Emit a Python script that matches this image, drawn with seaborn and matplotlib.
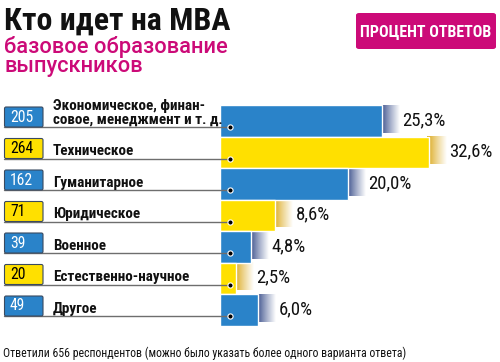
import numpy as np
import pandas as pd
import seaborn as sns
import matplotlib
matplotlib.use("Agg")
import matplotlib.pyplot as plt
from matplotlib import font_manager as fm
from matplotlib.font_manager import FontProperties
from matplotlib.patches import FancyBboxPatch

# ---- data ----
categories = ["Экономическое, финан-\nсовое, менеджмент и т. д.", "Техническое", "Гуманитарное",
              "Юридическое", "Военное", "Естественно-научное", "Другое"]
counts = [205, 264, 162, 71, 39, 20, 49]
percents = [25.3, 32.6, 20.0, 8.6, 4.8, 2.5, 6.0]
pct_labels = ["25,3%", "32,6%", "20,0%", "8,6%", "4,8%", "2,5%", "6,0%"]
title = "Кто идет на МВА"
subtitle_lines = ["базовое образование", "выпускников"]
badge = "ПРОЦЕНТ ОТВЕТОВ"
footnote = "Ответили 656 респондентов (можно было указать более одного варианта ответа)"

BLUE = "#2a83c9"
YELLOW = "#ffe000"
PINK = "#cc0a78"
colors = [BLUE, YELLOW, BLUE, YELLOW, BLUE, YELLOW, BLUE]
shade_dark = {BLUE: (0.15, 0.24, 0.50), YELLOW: (0.85, 0.64, 0.05)}

sns.set_theme(style="white")
plt.rcParams["font.family"] = ["Roboto", "DejaVu Sans"]


def _is_bold(f):
    w = f.weight
    if isinstance(w, str):
        return w.lower() in ("bold", "heavy", "black", "demibold", "semibold")
    return w >= 600


def find_font(bold):
    entries = fm.fontManager.ttflist
    prefs = ["Liberation Sans Narrow", "Roboto Condensed", "Open Sans Condensed",
             "Noto Sans Condensed"]
    for p in prefs:
        for f in entries:
            if f.name == p and _is_bold(f) == bold and f.style == "normal":
                return FontProperties(fname=f.fname)
    for f in entries:
        if f.name == "DejaVu Sans" and str(f.stretch) in ("condensed", "semi-condensed") \
                and _is_bold(f) == bold and f.style == "normal":
            return FontProperties(fname=f.fname)
    return FontProperties(family=["Roboto", "DejaVu Sans"],
                          weight="bold" if bold else "normal")


FP_REG = find_font(False)
FP_BOLD = find_font(True)
FP_WIDE = FontProperties(family=["Roboto", "DejaVu Sans"], weight="medium")

W, H = 500, 362
fig = plt.figure(figsize=(W / 100, H / 100), dpi=100)
fig.patch.set_facecolor("white")
renderer = fig.canvas.get_renderer()


def fit_size(text, fp, target_w, start=12.0):
    p = fp.copy()
    p.set_size(start)
    t = fig.text(0, 0, text, fontproperties=p)
    w = t.get_window_extent(renderer).width
    t.remove()
    return start * target_w / w


def ftext(x, y, s, fp, size, **kw):
    p = fp.copy()
    p.set_size(size)
    return fig.text(x / W, 1 - y / H, s, fontproperties=p, **kw)


PX = 6.4            # pixels per percent
X0 = 220            # pixel position of zero
ax = fig.add_axes([X0 / W, 1 - 325.75 / H, 1 - X0 / W, 220.5 / H])

df = pd.DataFrame({"cat": categories, "pct": percents})
sns.barplot(data=df, x="pct", y="cat", hue="cat", palette=colors, legend=False,
            orient="h", width=1.0, ax=ax, edgecolor="white", linewidth=1.0,
            saturation=1, zorder=3)


def px2x(p):
    return (p - X0) / PX


def pxh(p):
    return p / 31.5


# shadows (3D side) as gradients
for i, (v, c) in enumerate(zip(percents, colors)):
    d = shade_dark[c]
    n = 64
    t = np.linspace(0, 1, n) ** 0.85
    grad = np.zeros((1, n, 3))
    for k in range(3):
        grad[0, :, k] = d[k] + (1 - d[k]) * t
    ax.imshow(grad, extent=[v - 0.3, v + 2.8, i + 0.38, i - 0.48], aspect="auto",
              zorder=2, interpolation="bilinear")

num_size = fit_size("205", FP_REG, 23)
cat_size = fit_size("Естественно-научное", FP_BOLD, 137)
pct_size = fit_size("32,6%", FP_REG, 43)

for i, (cat, n, c, v, lab) in enumerate(zip(categories, counts, colors, percents, pct_labels)):
    ly = i + pxh(6)
    ax.plot([px2x(4), px2x(230)], [ly, ly], color="#6e6e6e", lw=1.0, clip_on=False, zorder=4)
    ax.scatter([px2x(230)], [ly], s=14, color="black", edgecolor="white", linewidth=0.8,
               clip_on=False, zorder=5)
    box = FancyBboxPatch((px2x(4.5), i - pxh(14)), (43 - 4.5) / PX, pxh(20),
                         boxstyle="round,pad=0,rounding_size=0.25", facecolor=c,
                         edgecolor="#3a4a60", linewidth=0.8, clip_on=False, zorder=4,
                         mutation_aspect=0.2)
    ax.add_patch(box)
    p = FP_REG.copy(); p.set_size(num_size)
    ax.text(px2x(10), i - pxh(4), str(n), color="white" if c == BLUE else "black",
            fontproperties=p, va="center", ha="left", clip_on=False, zorder=6)
    p = FP_BOLD.copy(); p.set_size(cat_size)
    ax.text(px2x(53), ly - pxh(3.5), cat, fontproperties=p, va="baseline", ha="left",
            color="#111111", clip_on=False, linespacing=1.0, zorder=6)
    p = FP_REG.copy(); p.set_size(pct_size)
    ax.text(v + 2.8 + 0.4, i - pxh(1), lab, fontproperties=p, va="center", ha="left",
            color="#111111", clip_on=False, zorder=6)

ax.set_xlim(0, (W - X0) / PX)
ax.set_ylim(6.5, -0.5)
ax.axis("off")

# titles
ftext(4, 30, title, FP_BOLD, fit_size(title, FP_BOLD, 226), color="#111111",
      ha="left", va="baseline")
sub_size = fit_size(subtitle_lines[0], FP_WIDE, 223)
ftext(4, 53, subtitle_lines[0], FP_WIDE, sub_size, color=PINK, ha="left", va="baseline")
ftext(4, 72, subtitle_lines[1], FP_WIDE, sub_size, color=PINK, ha="left", va="baseline")

# badge
bx0, by0, bw, bh = 356, 13, 140, 36
fig.patches.append(FancyBboxPatch((bx0 / W, 1 - (by0 + bh) / H), bw / W, bh / H,
                                  boxstyle="round,pad=0,rounding_size=0.006",
                                  transform=fig.transFigure, facecolor=PINK,
                                  edgecolor="none", figure=fig))
ftext(bx0 + bw / 2, by0 + bh / 2 + 1, badge, FP_BOLD, fit_size(badge, FP_BOLD, 132),
      color="white", ha="center", va="center")

ftext(3, 357, footnote, FP_REG, fit_size(footnote, FP_REG, 400), color="#111111",
      ha="left", va="baseline")

fig.savefig("out.png", dpi=100, facecolor="white")
